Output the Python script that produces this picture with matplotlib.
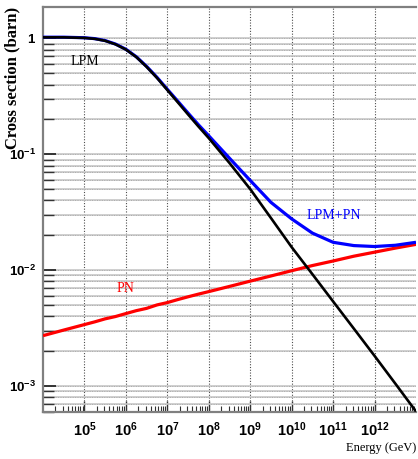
import matplotlib
matplotlib.use("Agg")
import matplotlib.pyplot as plt
from matplotlib import font_manager
from matplotlib.ticker import LogLocator, FixedLocator, FixedFormatter, NullFormatter

_names = {f.name for f in font_manager.fontManager.ttflist}
tick_font = 'Liberation Sans Narrow' if 'Liberation Sans Narrow' in _names else 'Liberation Sans'
tick_size = 10.5 if tick_font == 'Liberation Sans Narrow' else 9.5

plt.rcParams['mathtext.fontset'] = 'custom'
plt.rcParams['mathtext.rm'] = tick_font + ':bold'
plt.rcParams['mathtext.bf'] = tick_font + ':bold'

# Energy (GeV)
energy = [1e4, 10**4.5, 1e5, 10**5.25, 10**5.5, 10**5.75, 1e6, 10**6.25, 10**6.5, 10**6.75,
          1e7, 10**7.25, 10**7.5, 10**7.75, 1e8, 10**8.5, 1e9, 10**9.5, 1e10, 10**10.5, 1e11, 10**11.5,
          1e12, 10**12.5, 1e13]
# cross sections (barn)
lpm = [1.023, 1.023, 1.012, 0.993, 0.955, 0.891, 0.803, 0.692, 0.569, 0.457,
       0.359, 0.282, 0.221, 0.174, 0.138, 0.0841, 0.0501, 0.0282, 0.0158, 0.00923, 0.00537, 0.00313,
       0.00182, 0.00105, 0.000603]
pn = [0.00272, 0.00304, 0.00339, 0.00358, 0.00380, 0.00398, 0.00422, 0.00447, 0.00468, 0.00501,
      0.00525, 0.00557, 0.00589, 0.00621, 0.00653, 0.00724, 0.00804, 0.00891, 0.00989, 0.01096,
      0.0120, 0.0132, 0.0143, 0.0155, 0.0167]
lpm_pn = [1.026, 1.026, 1.015, 0.997, 0.959, 0.895, 0.807, 0.696, 0.574, 0.462,
          0.364, 0.288, 0.227, 0.180, 0.1445, 0.0925, 0.0595, 0.0385, 0.0277, 0.0209, 0.0174, 0.0163,
          0.0160, 0.0164, 0.0174]

xtick_vals = [1e5, 1e6, 1e7, 1e8, 1e9, 1e10, 1e11, 1e12]
xtick_labels = [r'$\mathbf{10^{5}}$', r'$\mathbf{10^{6}}$', r'$\mathbf{10^{7}}$', r'$\mathbf{10^{8}}$',
                r'$\mathbf{10^{9}}$', r'$\mathbf{10^{10}}$', r'$\mathbf{10^{11}}$', r'$\mathbf{10^{12}}$']
ytick_vals = [1e-3, 1e-2, 1e-1, 1]
ytick_labels = [r'$\mathbf{10^{-3}}$', r'$\mathbf{10^{-2}}$', r'$\mathbf{10^{-1}}$', r'$\mathbf{1}$']

fig = plt.figure(figsize=(4.18, 4.59), dpi=100)
ax = fig.add_axes([43/418, 1-411.7/459, (416-43)/418, (411.7-7)/459])
ax.set_xscale('log')
ax.set_yscale('log')
ax.set_xlim(1e4, 1e13)
ax.set_ylim(6.0e-4, 1.87)

ax.xaxis.set_major_locator(FixedLocator(xtick_vals))
ax.xaxis.set_major_formatter(FixedFormatter(xtick_labels))
ax.xaxis.set_minor_locator(LogLocator(base=10, subs=range(2, 10), numticks=100))
ax.xaxis.set_minor_formatter(NullFormatter())
ax.yaxis.set_major_locator(FixedLocator(ytick_vals))
ax.yaxis.set_major_formatter(FixedFormatter(ytick_labels))
ax.yaxis.set_minor_locator(LogLocator(base=10, subs=range(2, 10), numticks=100))
ax.yaxis.set_minor_formatter(NullFormatter())

ax.tick_params(axis='x', which='major', direction='in', length=8, width=1, color='0.2',
               labelsize=tick_size + 1, pad=6, top=False)
ax.tick_params(axis='x', which='minor', direction='in', length=4, width=0.8, color='0.2', top=False)
ax.tick_params(axis='y', which='major', direction='in', length=9, width=1.2, color='0.1',
               labelsize=tick_size, pad=5, right=False)
ax.tick_params(axis='y', which='minor', direction='in', length=8, width=1, color='0.2', right=False)

ax.yaxis.grid(True, which='both', color='0.78', ls='-', lw=1.2, zorder=0)
ax.xaxis.grid(True, which='major', color='0.3', ls=(0, (1, 1.5)), lw=0.8, zorder=0)
for yv in ax.yaxis.get_minorticklocs().tolist() + ytick_vals:
    if 6.0e-4 < yv < 1.87:
        ax.axhline(yv, color='0.15', ls=(0, (1, 1.5)), lw=0.7, zorder=0.5)

for s in ['left', 'top', 'bottom']:
    ax.spines[s].set_color('0.5')
    ax.spines[s].set_linewidth(1.6)
ax.spines['right'].set_visible(False)

ax.plot(energy, pn, color='#ff0000', lw=2.3, zorder=3, solid_capstyle='butt')
ax.plot(energy, lpm_pn, color='#0000ff', lw=2.3, zorder=3, solid_capstyle='butt')
ax.plot(energy, lpm, color='black', lw=1.9, zorder=4, solid_capstyle='butt')

ax.text(84.5/418, 1-61.5/459, 'LPM', transform=fig.transFigure, ha='center', va='center',
        family='Liberation Serif', fontsize=10, color='black')
ax.text(333.5/418, 1-215.5/459, 'LPM+PN', transform=fig.transFigure, ha='center', va='center',
        family='Liberation Serif', fontsize=10, color='#0000ff')
ax.text(125.7/418, 1-288.5/459, 'PN', transform=fig.transFigure, ha='center', va='center',
        family='Liberation Serif', fontsize=10, color='#ff0000')

fig.text(416/418, 1-448/459, 'Energy (GeV)', ha='right', va='center',
         family='Liberation Serif', fontsize=9)
fig.text(12/418, 1-7/459, 'Cross section (barn)', ha='center', va='top', rotation=90,
         family='Liberation Serif', fontweight='bold', fontsize=12)

fig.savefig('out.png', dpi=100)
